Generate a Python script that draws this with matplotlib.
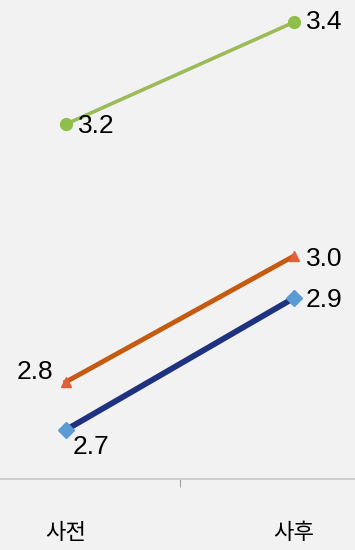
import matplotlib
matplotlib.use("Agg")
import matplotlib.pyplot as plt

# ─── data ─────────────────────────────────────────────────────────────────────

categories = ["사전", "사후"]
series_blue = [2.70, 2.92]
series_orange = [2.78, 2.99]
series_green = [3.21, 3.38]

BG = "#f2f2f2"
NUM_FONT = ["Liberation Sans", "DejaVu Sans"]
KR_FONT = ["Noto Sans CJK KR", "DejaVu Sans"]

fig = plt.figure(figsize=(3.55, 5.5), dpi=100, facecolor=BG)
ax = fig.add_axes([0, 71 / 550, 1, 479 / 550], facecolor=BG)

xs = list(range(len(categories)))

ax.plot(xs, series_green, color="#9bbb59", lw=2.6, marker="o",
        ms=8.5, mfc="#8fbf4a", mec="#8fbf4a", solid_capstyle="round", zorder=3)
ax.plot(xs, series_orange, color="#c55a11", lw=3.5, marker="^",
        ms=7.5, mfc="#e0603c", mec="#e0603c", zorder=3)
ax.plot(xs, series_blue, color="#1f3280", lw=4.2, marker="D",
        ms=8.5, mfc="#5b9bd5", mec="#5b9bd5", zorder=4)

# data labels: (series, index, pixel offset, horizontal alignment)
labels = [
    (series_green, 0, (12, -2), "left"),
    (series_green, 1, (12, 0), "left"),
    (series_orange, 0, (-13, 10), "right"),
    (series_orange, 1, (12, -3), "left"),
    (series_blue, 0, (7, -17), "left"),
    (series_blue, 1, (12, -2), "left"),
]
for series, i, off, ha in labels:
    ax.annotate(f"{series[i]:.1f}", (xs[i], series[i]), xytext=off,
                textcoords="offset pixels", ha=ha, va="center",
                fontsize=19, family=NUM_FONT, color="black", zorder=5)

ax.set_xlim(-0.2895, 1.2675)
ax.set_ylim(2.618, 3.417)

for side in ["top", "right", "left"]:
    ax.spines[side].set_visible(False)
ax.spines["bottom"].set_color("#c8c8c8")
ax.spines["bottom"].set_linewidth(1.2)

ax.set_yticks([])
ax.set_xticks([0.5])
ax.set_xticklabels([])
ax.tick_params(axis="x", length=6, width=0.8, color="#a0a0a0", direction="out")

for x, name in zip(xs, categories):
    ax.text(x, -0.111, name, transform=ax.get_xaxis_transform(),
            ha="center", va="center", fontsize=16, family=KR_FONT)

fig.savefig("out.png", dpi=100, facecolor=BG)
